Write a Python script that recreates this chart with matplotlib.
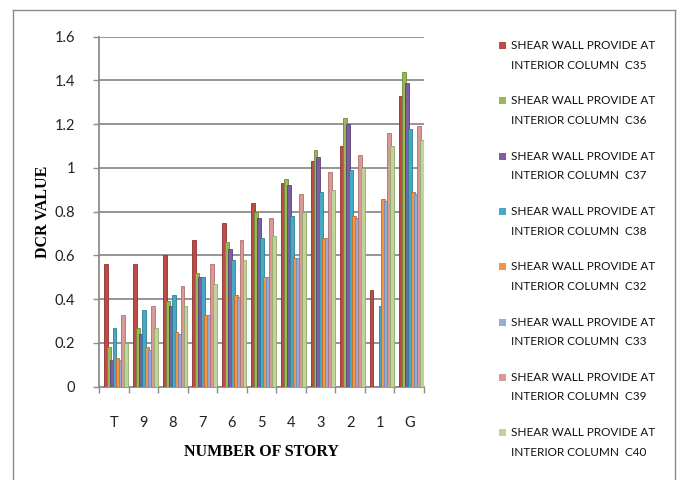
import matplotlib
matplotlib.use("Agg")
import matplotlib.pyplot as plt
from matplotlib.patches import Rectangle
from matplotlib.lines import Line2D
import numpy as np

# Storeys along the x axis (top storey first, ground last)
stories = ["T", "9", "8", "7", "6", "5", "4", "3", "2", "1", "G"]

# Column at which the shear wall is provided, in plotting order
columns = ["C35", "C36", "C37", "C38", "C32", "C33", "C39", "C40"]

# DCR values per storey for each shear wall location
c35 = [0.56, 0.56, 0.60, 0.67, 0.75, 0.84, 0.93, 1.03, 1.10, 0.44, 1.33]
c36 = [0.18, 0.27, 0.39, 0.52, 0.66, 0.80, 0.95, 1.08, 1.23, 0.00, 1.44]
c37 = [0.12, 0.24, 0.37, 0.50, 0.63, 0.77, 0.92, 1.05, 1.20, 0.00, 1.39]
c38 = [0.27, 0.35, 0.42, 0.50, 0.58, 0.68, 0.78, 0.89, 0.99, 0.37, 1.18]
c32 = [0.13, 0.18, 0.25, 0.33, 0.42, 0.50, 0.59, 0.68, 0.78, 0.86, 0.89]
c33 = [0.12, 0.17, 0.24, 0.33, 0.41, 0.50, 0.59, 0.68, 0.77, 0.85, 0.88]
c39 = [0.33, 0.37, 0.46, 0.56, 0.67, 0.77, 0.88, 0.98, 1.06, 1.16, 1.19]
c40 = [0.20, 0.27, 0.37, 0.47, 0.58, 0.69, 0.80, 0.90, 1.00, 1.10, 1.13]

series = [c35, c36, c37, c38, c32, c33, c39, c40]

y_ticks = [0, 0.2, 0.4, 0.6, 0.8, 1.0, 1.2, 1.4, 1.6]
y_tick_labels = ["0", "0.2", "0.4", "0.6", "0.8", "1", "1.2", "1.4", "1.6"]

fills = ["#BE4B48", "#98B954", "#7D5FA0", "#46AAC5", "#F59443",
         "#95ACD9", "#DA9896", "#BFD49A"]
edges = ["#8E3331", "#6E8A38", "#5A4278", "#2E7F96", "#C46A22",
         "#6E87B8", "#B06E6C", "#92A86C"]

W, H = 684, 480
fig = plt.figure(figsize=(W / 100, H / 100), dpi=100)
fig.patch.set_facecolor("white")

def fx(px):
    return px / W

def fy(py):
    return 1 - py / H

ax_left, ax_right, ax_top, ax_bottom = 99, 424, 36.7, 386.7
ax = fig.add_axes([fx(ax_left), fy(ax_bottom),
                   (ax_right - ax_left) / W, (ax_bottom - ax_top) / H])

x = np.arange(len(stories))
for i, vals in enumerate(series):
    ax.bar(x - 0.275 + 0.1 * i, vals, width=0.13, color=fills[i],
           edgecolor=edges[i], linewidth=0.6, zorder=3 + i * 0.01)

grid_c = "#8C8C8C"
ax.set_xlim(-0.5, len(stories) - 0.5)
ax.set_ylim(0, 1.6)
ax.set_yticks(y_ticks)
ax.set_yticklabels(y_tick_labels)
ax.yaxis.grid(True, color=grid_c, linewidth=1.3, zorder=0)
ax.set_axisbelow(True)

ax.set_xticks(x)
ax.set_xticklabels(stories)
ax.set_xticks(np.arange(-0.5, len(stories)), minor=True)
ax.tick_params(axis="x", which="major", length=0, pad=21)
ax.tick_params(axis="x", which="minor", length=4, width=1, color=grid_c,
               direction="out")
ax.tick_params(axis="y", length=4, width=1, color=grid_c, direction="out",
               pad=13)
for lab in ax.get_xticklabels() + ax.get_yticklabels():
    lab.set_fontfamily("Lato")
    lab.set_fontsize(10.5)
    lab.set_color("#222222")

for s in ["top", "right"]:
    ax.spines[s].set_visible(False)
for s in ["left", "bottom"]:
    ax.spines[s].set_color(grid_c)
    ax.spines[s].set_linewidth(1.3)

ax.set_ylabel("DCR VALUE", fontfamily="Liberation Serif", fontweight="bold",
              fontsize=11.5)
ax.yaxis.set_label_coords((43 - ax_left) / (ax_right - ax_left), 0.5)
ax.yaxis.label.set_va("center")
ax.set_xlabel("NUMBER OF STORY", fontfamily="Liberation Serif",
              fontweight="bold", fontsize=11.5)
ax.xaxis.set_label_coords(0.5, -(452 - ax_bottom) / (ax_bottom - ax_top))
ax.xaxis.label.set_va("center")

# Legend: one square marker per entry, two text lines each
for i, col in enumerate(columns):
    y1 = 45.7 + 55.3 * i
    y2 = y1 + 19.5
    fig.add_artist(Rectangle((fx(499), fy(y1 + 3.4)), 7 / W, 7 / H,
                             transform=fig.transFigure, facecolor=fills[i],
                             edgecolor="none"))
    fig.text(fx(511), fy(y1), "SHEAR WALL PROVIDE AT", fontfamily="Lato",
             fontsize=8.5, va="center", ha="left", color="#111111")
    fig.text(fx(511), fy(y2), "INTERIOR COLUMN  " + col, fontfamily="Lato",
             fontsize=8.5, va="center", ha="left", color="#111111")

# Chart area frame
frame_c = "#8A8A8A"
fig.add_artist(Line2D([fx(13), fx(13)], [fy(10), fy(482)],
                      transform=fig.transFigure, color=frame_c, lw=1))
fig.add_artist(Line2D([fx(13), fx(675)], [fy(10), fy(10)],
                      transform=fig.transFigure, color=frame_c, lw=1))
fig.add_artist(Line2D([fx(675), fx(675)], [fy(10), fy(482)],
                      transform=fig.transFigure, color=frame_c, lw=1))

fig.savefig("out.png", dpi=100)
